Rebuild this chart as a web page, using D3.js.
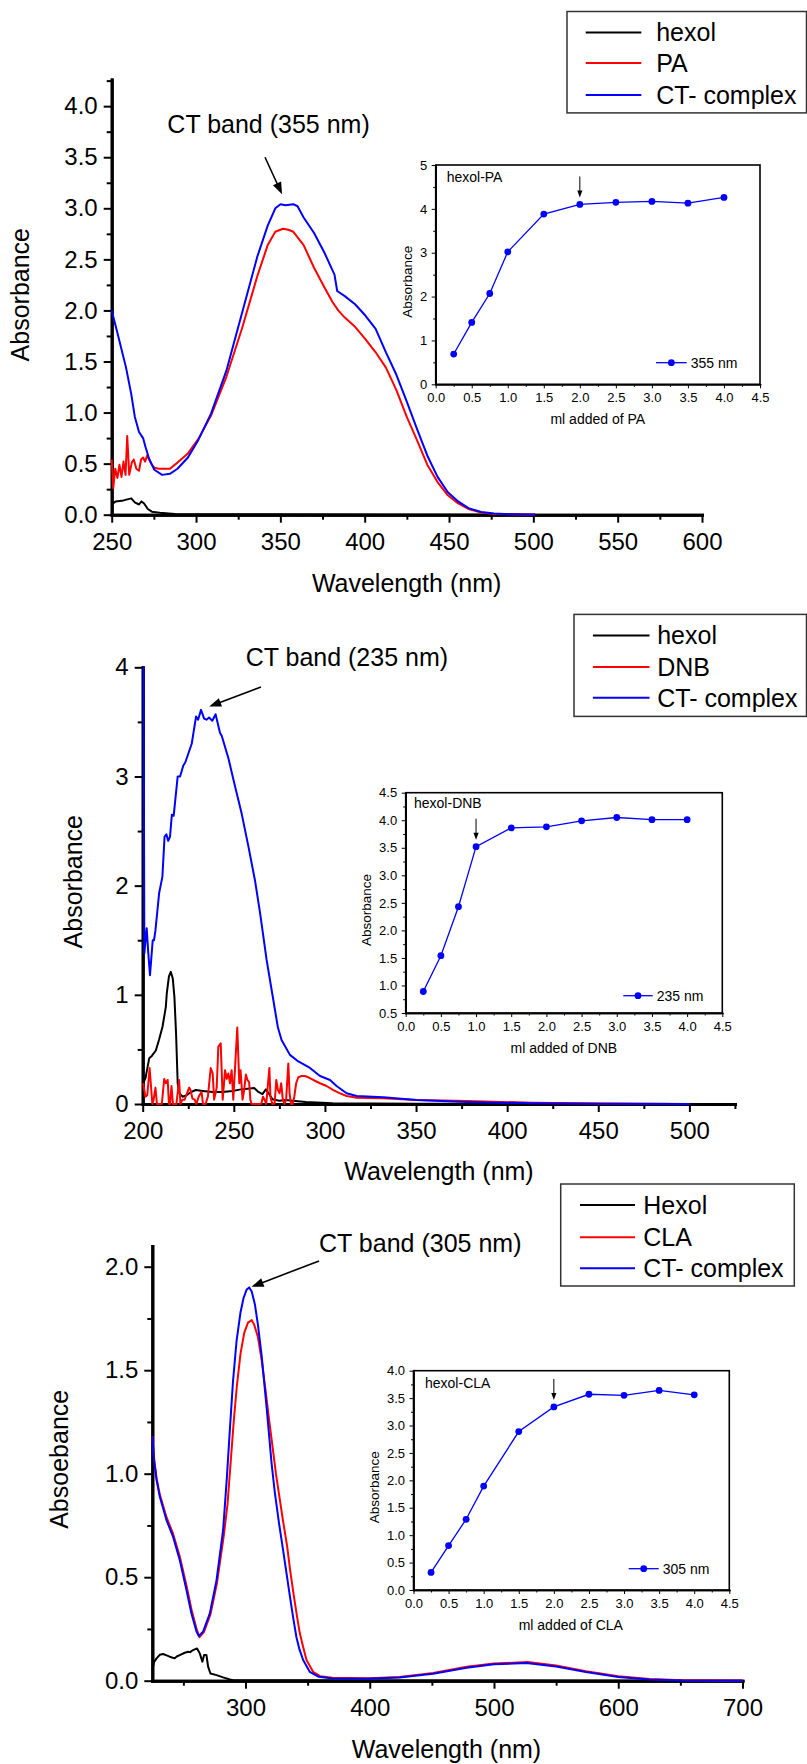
<!DOCTYPE html>
<html><head><meta charset="utf-8">
<script src="https://cdn.jsdelivr.net/npm/d3@7"></script>
<style>body{margin:0;background:#fff} svg{display:block}</style>
</head><body>
<svg id="c" width="807" height="1764"></svg>
<script>
// ---------------- DATA ----------------
// Panel 1 : hexol / PA / CT-complex  (wavelength nm, absorbance)
const p1Legend = ["hexol", "PA", "CT- complex"];
const p1Hexol = [[250,0.10],[252.4,0.13],[257,0.14],[261.6,0.16],[263.7,0.12],[266.2,0.10],[267.7,0.13],[269.2,0.11],[271.4,0.056],[273.8,0.03],[278.4,0.019],[287.5,0.008],[305.8,0.004],[400,0.003],[501,0.0]];
const p1PA = [[250,0.54],[250.9,0.26],[252.1,0.45],[253.4,0.36],[254.6,0.49],[255.8,0.37],[257,0.52],[258.2,0.39],[259.2,0.77],[260.4,0.39],[261.9,0.51],[263.1,0.54],[264.6,0.45],[266.2,0.43],[267.4,0.54],[268.6,0.56],[269.8,0.52],[271,0.58],[272.3,0.54],[273.8,0.49],[275.3,0.46],[278,0.45],[281.4,0.45],[284.5,0.45],[289,0.51],[295.2,0.60],[301.3,0.74],[308.9,0.97],[318,1.35],[327.2,1.82],[336.4,2.34],[342.5,2.64],[347,2.77],[351.6,2.80],[354.7,2.79],[357.7,2.77],[363.8,2.64],[369.9,2.42],[376,2.23],[381,2.08],[384.3,2.00],[388.2,1.93],[394.3,1.84],[400.4,1.72],[406.5,1.59],[412.6,1.44],[418.8,1.22],[424.9,0.96],[431,0.73],[437.1,0.49],[443.2,0.32],[449.3,0.19],[455.4,0.11],[461.5,0.056],[469.1,0.022],[476.7,0.008],[488.9,0.002],[501,0.0]];
const p1CT = [[250,2.00],[254,1.74],[258.5,1.44],[261.6,1.18],[263.7,0.96],[266.2,0.81],[268.6,0.75],[270.1,0.66],[272.3,0.54],[275.3,0.44],[279.9,0.39],[284.5,0.40],[289,0.45],[295.2,0.56],[301.3,0.73],[308.9,0.99],[318,1.41],[327.2,1.97],[336.4,2.53],[342.5,2.83],[347,3.00],[350.1,3.04],[353.1,3.03],[357.7,3.04],[360.2,3.02],[363.8,2.91],[369.9,2.76],[376,2.57],[382.1,2.35],[383.7,2.19],[388.2,2.14],[394.3,2.06],[400.4,1.95],[406.5,1.82],[412.6,1.59],[418.8,1.37],[424.9,1.11],[431,0.84],[437.1,0.58],[443.2,0.37],[449.3,0.22],[455.4,0.13],[461.5,0.064],[469.1,0.026],[476.7,0.011],[488.9,0.004],[501,0.0]];
const p1XTicks = [250,300,350,400,450,500,550,600];
const p1YTicks = [0,0.5,1,1.5,2,2.5,3,3.5,4];

// Panel 2 : hexol / DNB / CT-complex
const p2Legend = ["hexol", "DNB", "CT- complex"];
const p2Hexol = [[200.2,0.19],[201.5,0.235],[203.6,0.42],[205,0.44],[207.2,0.49],[209,0.59],[210.9,0.71],[212.7,0.89],[213.2,1.01],[214.4,1.17],[215.4,1.21],[216.5,1.15],[217.4,0.98],[218.3,0.65],[219.2,0.19],[220.1,0.10],[221.9,0.067],[224.1,0.08],[226.5,0.11],[229.2,0.128],[232.9,0.12],[238.4,0.11],[243.8,0.11],[249.3,0.12],[253.9,0.134],[257.5,0.14],[261.2,0.146],[263.5,0.11],[265.7,0.09],[267.6,0.134],[269,0.10],[271.2,0.043],[274.9,0.03],[278.6,0.037],[282.2,0.03],[289.5,0.018],[304.2,0.006],[350,0.002],[500,0.0]];
const p2DNB = [[200.2,0.19],[201.5,0.067],[202.5,0.08],[203.8,0.33],[205.3,0],[206,0.04],[207,0.15],[207.8,0],[210.5,0],[211.8,0.23],[212.7,0.19],[213.7,0.22],[214.4,0],[215,0],[215.8,0.165],[216.6,0],[218.5,0],[220,0.22],[220.7,0],[221.8,0.04],[223,0.04],[225.5,0.15],[226.2,0.13],[227.3,0.05],[228.5,0.04],[229.4,0],[230.8,0.07],[232.3,0.11],[233.1,0],[234.5,0],[235.8,0.07],[237.3,0.33],[238.4,0.28],[239.2,0.04],[240.6,0.15],[241.5,0.525],[242.8,0.556],[243.9,0.04],[245.2,0.31],[246.1,0.23],[247,0.28],[247.9,0.19],[248.8,0.31],[249.7,0.04],[250.7,0.34],[251.9,0.70],[253,0.19],[253.7,0.31],[254.8,0.04],[255.7,0.13],[256.6,0.27],[257.5,0.22],[258.4,0.2],[259.1,0.04],[259.7,0],[265,0],[266,0.067],[266.9,0.037],[267.8,0],[269.5,0.33],[270.1,0.067],[271.1,0],[272.4,0.005],[273.3,0.22],[274.2,0.128],[275.1,0.098],[276,0.19],[276.9,0.04],[277.8,0],[278.7,0.04],[279.9,0.37],[280.6,0.098],[281.4,0],[282.3,0],[283.2,0.067],[284.2,0.19],[285.4,0.245],[287.2,0.256],[289,0.256],[290.9,0.245],[293.6,0.22],[297.3,0.19],[300.9,0.165],[304.6,0.128],[308.3,0.098],[311.9,0.073],[317.4,0.058],[332,0.052],[350.3,0.037],[377.8,0.027],[414,0.012],[450,0.004],[500,0.0]];
const p2CT = [[200.2,4.0],[200.5,4.0],[200.9,1.38],[201.3,1.45],[202.2,1.61],[203,1.4],[204,1.18],[205.5,1.50],[206.2,1.50],[207,1.59],[209,1.93],[210.8,2.08],[212,2.45],[213,2.47],[214,2.41],[215,2.45],[216,2.65],[217,2.64],[219.2,3.0],[220.5,3.0],[222.3,3.10],[223.4,3.13],[226.9,3.30],[229.3,3.55],[230.4,3.52],[232,3.61],[233.7,3.53],[235,3.52],[236.4,3.54],[238.2,3.51],[240,3.57],[242.4,3.40],[243.4,3.37],[247,3.17],[249.8,2.97],[254.3,2.66],[258,2.36],[261.6,2.05],[264.4,1.75],[268,1.32],[271.7,0.95],[274.2,0.70],[276.2,0.586],[280.8,0.45],[285.4,0.39],[291.8,0.33],[297.3,0.256],[302.8,0.22],[306.4,0.165],[311.9,0.098],[317.4,0.073],[332,0.061],[350.3,0.037],[377.8,0.018],[414,0.006],[450,0.002],[500,0.0]];
const p2XTicks = [200,250,300,350,400,450,500];
const p2YTicks = [0,1,2,3,4];

// Panel 3 : Hexol / CLA / CT-complex
const p3Legend = ["Hexol", "CLA", "CT- complex"];
const p3Hexol = [[225,0.05],[226.5,0.09],[228.4,0.108],[231,0.125],[233.7,0.129],[236.5,0.122],[239,0.116],[243,0.108],[245,0.118],[247.1,0.124],[251.1,0.135],[253.8,0.14],[255.5,0.138],[257.8,0.148],[261,0.156],[263.2,0.132],[265.3,0.092],[266.7,0.124],[268.6,0.124],[269.9,0.068],[271.8,0.035],[276.7,0.027],[282,0.016],[287.4,0.006],[290,0.002],[350,0.002],[700,0.0]];
const p3CLA = [[225,1.18],[226.5,1.07],[228.4,0.98],[231,0.90],[236.4,0.79],[241.7,0.71],[247.1,0.60],[252.5,0.46],[256.5,0.345],[260.6,0.25],[263,0.21],[266.5,0.235],[271.8,0.32],[277,0.47],[282.5,0.70],[285.5,0.85],[288,1.05],[290.5,1.25],[293,1.42],[296,1.58],[299,1.68],[302,1.73],[305,1.742],[307,1.72],[310,1.66],[313,1.55],[316,1.41],[319,1.26],[322,1.12],[324.5,1.0],[327,0.90],[330,0.78],[333.5,0.65],[336,0.53],[338.9,0.41],[341.5,0.31],[343.7,0.23],[346.5,0.16],[349.1,0.10],[354.4,0.043],[360,0.022],[370,0.014],[400,0.012],[424,0.018],[451,0.037],[478,0.067],[500,0.083],[527,0.09],[550,0.074],[574,0.046],[600,0.021],[625,0.008],[652,0.002],[700,0.0]];
const p3CT = [[225,1.18],[226.5,1.06],[228.4,0.97],[231,0.89],[236.4,0.776],[241.7,0.696],[247.1,0.583],[252.5,0.438],[256.5,0.325],[260.6,0.237],[262.4,0.216],[265.9,0.237],[271.3,0.325],[276.7,0.486],[282,0.728],[285,0.98],[287.5,1.22],[290,1.45],[292.8,1.64],[296,1.78],[298.5,1.85],[301,1.89],[303,1.90],[305,1.88],[307.5,1.82],[310,1.72],[313,1.57],[317,1.32],[321,1.05],[323.6,0.91],[327,0.76],[330.3,0.63],[333,0.52],[335.7,0.41],[338.5,0.30],[341,0.21],[343.5,0.15],[346.4,0.10],[351.7,0.043],[359,0.019],[370,0.011],[397,0.01],[424,0.016],[451,0.034],[478,0.063],[500,0.079],[526,0.085],[550,0.069],[574,0.042],[600,0.018],[625,0.006],[652,0.001],[700,0.0]];
const p3XTicks = [300,400,500,600,700];
const p3YTicks = [0,0.5,1,1.5,2];

// Insets : titration (ml added vs absorbance)
const mlAdded = [0.25,0.5,0.75,1.0,1.5,2.0,2.5,3.0,3.5,4.0];
const absPA355 = [0.69,1.41,2.07,3.02,3.88,4.10,4.15,4.17,4.13,4.26];
const absDNB235 = [0.89,1.54,2.43,3.52,3.86,3.88,3.99,4.05,4.01,4.01];
const absCLA305 = [0.32,0.81,1.29,1.895,2.89,3.34,3.57,3.55,3.64,3.56];
const insetXTicks = [0,0.5,1,1.5,2,2.5,3,3.5,4,4.5];

// ---------------- DRAWING ----------------
const FONT = "'Liberation Sans', Arial, Helvetica, sans-serif";
const svg = d3.select("#c").attr("font-family", FONT);
svg.append("rect").attr("width",807).attr("height",1764).attr("fill","#fff");
const COLORS = ["#000000","#ff0000","#0000ff"];

function arrow(g, x1, y1, x2, y2, len, half, sw){
  const dx = x2-x1, dy = y2-y1, d = Math.hypot(dx,dy);
  const ux = dx/d, uy = dy/d, nx = -uy, ny = ux;
  g.append("line").attr("x1",x1).attr("y1",y1)
    .attr("x2",x2-ux*len*0.6).attr("y2",y2-uy*len*0.6)
    .attr("stroke","#000").attr("stroke-width",sw);
  const bx = x2-ux*len, by = y2-uy*len;
  g.append("path").attr("d",`M${x2},${y2}L${bx+nx*half},${by+ny*half}L${bx-nx*half},${by-ny*half}Z`).attr("fill","#000");
}

function range(a,b,s){ const r=[]; for(let v=a; v<=b+1e-9; v+=s) r.push(+v.toFixed(4)); return r; }

function styleAxis(sel, fs, sw, domainW){
  sel.attr("font-size",null).attr("font-family",null);
  sel.selectAll("text").attr("font-size",fs).attr("font-family",FONT).attr("fill","#000");
  sel.selectAll(".tick line").attr("stroke","#000").attr("stroke-width",sw);
  sel.selectAll("path.domain").attr("stroke","#000").attr("stroke-width",domainW).attr("stroke-linecap","square");
}

function panel(cfg){
  const g = svg.append("g");
  const x = d3.scaleLinear().domain(cfg.xDomain).range(cfg.xRange);
  const y = d3.scaleLinear().domain(cfg.yDomain).range(cfg.yRange);
  // axes
  const xa = g.append("g").attr("transform",`translate(0,${cfg.yRange[0]})`);
  xa.append("g").call(d3.axisBottom(x).tickValues(cfg.xMinor).tickSizeInner(5).tickSizeOuter(0).tickFormat(""));
  xa.append("g").call(d3.axisBottom(x).tickValues(cfg.xMajor).tickSizeInner(8).tickSizeOuter(0).tickPadding(10).tickFormat(cfg.xFmt));
  styleAxis(xa.selectAll("g"), 24, 2, 3);
  const ya = g.append("g").attr("transform",`translate(${cfg.xRange[0]},0)`);
  ya.append("g").call(d3.axisLeft(y).tickValues(cfg.yMinor).tickSizeInner(5).tickSizeOuter(0).tickFormat(""));
  ya.append("g").call(d3.axisLeft(y).tickValues(cfg.yMajor).tickSizeInner(8).tickSizeOuter(0).tickPadding(6).tickFormat(cfg.yFmt));
  styleAxis(ya.selectAll("g"), 24, 2, 3);
  // series
  const line = d3.line().x(d=>x(d[0])).y(d=>y(d[1]));
  cfg.series.forEach((s,i)=>{
    g.append("path").attr("d",line(s)).attr("fill","none")
      .attr("stroke",COLORS[i]).attr("stroke-width",2).attr("stroke-linejoin","round");
  });
  // axis titles
  g.append("text").attr("x",cfg.xTitle[0]).attr("y",cfg.xTitle[1]).attr("dy","0.35em")
    .attr("text-anchor","middle").attr("font-size",25).text("Wavelength (nm)");
  g.append("text").attr("transform",`translate(${cfg.yTitle[0]},${cfg.yTitle[1]}) rotate(-90)`)
    .attr("dy","0.35em").attr("text-anchor","middle").attr("font-size",25).text(cfg.yLabel);
  // annotation
  const a = cfg.annot;
  g.append("text").attr("x",x(a.text[0])).attr("y",y(a.text[1])).attr("dy","0.35em")
    .attr("font-size",25).text(a.label);
  arrow(g, x(a.from[0]), y(a.from[1]), x(a.to[0]), y(a.to[1]), 12, 4.5, 1.6);
  // legend
  const L = cfg.legend;
  g.append("rect").attr("x",L.box[0]).attr("y",L.box[1]).attr("width",L.box[2]).attr("height",L.box[3])
    .attr("fill","#fff").attr("stroke","#333").attr("stroke-width",1.5);
  cfg.legendNames.forEach((n,i)=>{
    const yy = L.ys[i];
    g.append("line").attr("x1",L.line[0]).attr("x2",L.line[1]).attr("y1",yy).attr("y2",yy)
      .attr("stroke",COLORS[i]).attr("stroke-width",2);
    g.append("text").attr("x",L.tx).attr("y",yy).attr("dy","0.35em").attr("font-size",25).text(n);
  });
}

function inset(cfg){
  const g = svg.append("g");
  const x = d3.scaleLinear().domain([0,4.5]).range(cfg.xRange);
  const y = d3.scaleLinear().domain(cfg.yDomain).range(cfg.yRange);
  const xa = g.append("g").attr("transform",`translate(0,${cfg.yRange[0]})`);
  xa.append("g").call(d3.axisBottom(x).tickValues(range(0.25,4.25,0.5)).tickSizeInner(2.5).tickSizeOuter(0).tickFormat(""));
  xa.append("g").call(d3.axisBottom(x).tickValues(insetXTicks).tickSizeInner(4).tickSizeOuter(0).tickPadding(4.5).tickFormat(d3.format(".1f")));
  styleAxis(xa.selectAll("g"), 13, 1, 1.5);
  const ya = g.append("g").attr("transform",`translate(${cfg.xRange[0]},0)`);
  ya.append("g").call(d3.axisLeft(y).tickValues(cfg.yMinor).tickSizeInner(2.5).tickSizeOuter(0).tickFormat(""));
  ya.append("g").call(d3.axisLeft(y).tickValues(cfg.yMajor).tickSizeInner(4).tickSizeOuter(0).tickPadding(4.5).tickFormat(cfg.yFmt));
  styleAxis(ya.selectAll("g"), 13, 1, 1.5);
  g.append("rect").attr("x",cfg.xRange[0]).attr("y",cfg.yRange[1])
    .attr("width",cfg.xRange[1]-cfg.xRange[0]).attr("height",cfg.yRange[0]-cfg.yRange[1])
    .attr("fill","none").attr("stroke","#000").attr("stroke-width",1.6);
  const pts = mlAdded.map((m,i)=>[m,cfg.values[i]]);
  g.append("path").attr("d",d3.line().x(d=>x(d[0])).y(d=>y(d[1]))(pts))
    .attr("fill","none").attr("stroke","#0000ff").attr("stroke-width",1.3);
  g.selectAll("circle.pt").data(pts).enter().append("circle").attr("class","pt")
    .attr("cx",d=>x(d[0])).attr("cy",d=>y(d[1])).attr("r",3.4).attr("fill","#0000ff");
  // title
  g.append("text").attr("x",cfg.title[0]).attr("y",cfg.title[1]).attr("dy","0.35em").attr("font-size",14).text(cfg.titleText);
  // arrow at end point
  const ai = mlAdded.indexOf(cfg.arrowAt);
  const ax = x(cfg.arrowAt), ay = y(cfg.values[ai]) - 7;
  arrow(g, ax, ay-21, ax, ay, 7, 2.6, 1);
  // axis titles
  g.append("text").attr("x",cfg.xTitle[0]).attr("y",cfg.xTitle[1]).attr("dy","0.35em")
    .attr("text-anchor","middle").attr("font-size",14).text(cfg.xTitleText);
  g.append("text").attr("transform",`translate(${cfg.yTitle[0]},${cfg.yTitle[1]}) rotate(-90)`)
    .attr("dy","0.35em").attr("text-anchor","middle").attr("font-size",13.5).text("Absorbance");
  // legend
  const L = cfg.legend;
  g.append("line").attr("x1",L[0]).attr("x2",L[1]).attr("y1",L[2]).attr("y2",L[2]).attr("stroke","#0000ff").attr("stroke-width",1.3);
  g.append("circle").attr("cx",(L[0]+L[1])/2).attr("cy",L[2]).attr("r",3.4).attr("fill","#0000ff");
  g.append("text").attr("x",L[1]+4).attr("y",L[2]).attr("dy","0.35em").attr("font-size",14).text(cfg.legendText);
}

const f1 = d3.format(".1f"), fd = d3.format("d");

panel({
  xDomain:[250,600], xRange:[111.7,702], yDomain:[0,4.26], yRange:[514.7,79.6],
  xMajor:p1XTicks, xMinor:range(275,575,50), xFmt:fd,
  yMajor:p1YTicks, yMinor:range(0.25,4.25,0.5), yFmt:f1,
  series:[p1Hexol,p1PA,p1CT],
  xTitle:[406.6,583.6], yTitle:[20.6,294.7], yLabel:"Absorbance",
  annot:{label:"CT band (355 nm)", text:[283,3.82], from:[340.9,3.50], to:[351,3.137]},
  legend:{box:[567,11.5,239.5,101.4], line:[585.7,641.3], tx:656.2, ys:[32.5,63.1,94.9]},
  legendNames:p1Legend
});
inset({
  xRange:[435.7,760], yDomain:[0,5], yRange:[384.3,165],
  yMajor:[0,1,2,3,4,5], yMinor:[0.5,1.5,2.5,3.5,4.5], yFmt:fd,
  values:absPA355, title:[446.7,176.7], titleText:"hexol-PA", arrowAt:2.0,
  xTitle:[597.8,419.3], xTitleText:"ml added of PA", yTitle:[407.3,281.7],
  legend:[656,686.7,362.7], legendText:"355 nm"
});

panel({
  xDomain:[200,525], xRange:[142.7,142.7+325*1.8223], yDomain:[0,4], yRange:[1104,667.3],
  xMajor:p2XTicks, xMinor:range(225,525,50), xFmt:fd,
  yMajor:p2YTicks, yMinor:[0.5,1.5,2.5,3.5], yFmt:fd,
  series:[p2Hexol,p2DNB,p2CT],
  xTitle:[439,1171.7], yTitle:[73.3,881.7], yLabel:"Absorbance",
  annot:{label:"CT band (235 nm)", text:[256.5,4.09], from:[264.9,3.82], to:[236.5,3.64]},
  legend:{box:[574,614.4,232.5,102], line:[592.9,649.5], tx:657.2, ys:[635.4,667,697.8]},
  legendNames:p2Legend
});
inset({
  xRange:[405.7,722.3], yDomain:[0.5,4.5], yRange:[1013,792.7],
  yMajor:range(0.5,4.5,0.5), yMinor:range(0.75,4.25,0.5), yFmt:f1,
  values:absDNB235, title:[414,803.3], titleText:"hexol-DNB", arrowAt:1.0,
  xTitle:[563.8,1047.7], xTitleText:"ml added of DNB", yTitle:[366,910],
  legend:[623.3,652.7,995.7], legendText:"235 nm"
});

panel({
  xDomain:[225,700], xRange:[152.3,742.5], yDomain:[0,2.1], yRange:[1680.7,1246],
  xMajor:p3XTicks, xMinor:range(250,650,100), xFmt:fd,
  yMajor:p3YTicks, yMinor:range(0.25,1.75,0.5), yFmt:f1,
  series:[p3Hexol,p3CLA,p3CT],
  xTitle:[446.5,1749], yTitle:[59,1459.3], yLabel:"Absoebance",
  annot:{label:"CT band (305 nm)", text:[359.2,2.113], from:[359.2,2.028], to:[304.9,1.903]},
  legend:{box:[560.7,1184,233.6,102], line:[580,635], tx:643.3, ys:[1205,1237.3,1268.3]},
  legendNames:p3Legend
});
inset({
  xRange:[413.5,729.3], yDomain:[0,4], yRange:[1590,1370.7],
  yMajor:range(0,4,0.5), yMinor:range(0.25,3.75,0.5), yFmt:f1,
  values:absCLA305, title:[425,1383.3], titleText:"hexol-CLA", arrowAt:2.0,
  xTitle:[570.8,1625], xTitleText:"ml added of CLA", yTitle:[374,1487.3],
  legend:[628.7,658.7,1568.7], legendText:"305 nm"
});
</script>
</body></html>
